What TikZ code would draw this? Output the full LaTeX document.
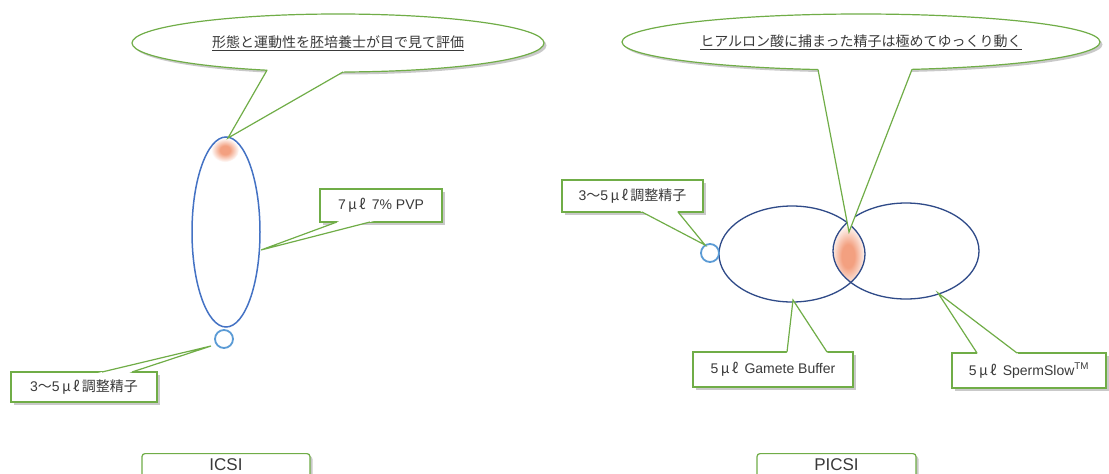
\documentclass[tikz,border=0pt]{standalone}
\usepackage{fontspec}
\setmainfont{Liberation Sans}
\newfontfamily\jp{Noto Sans CJK JP}
\usetikzlibrary{shapes.geometric,shadows,calc}
\definecolor{grn}{HTML}{70AD47}
\definecolor{blu}{HTML}{4472C4}
\definecolor{navy}{HTML}{2F4A88}
\definecolor{lblu}{HTML}{5B9BD5}
\definecolor{orng}{RGB}{243,160,128}
\definecolor{txt}{HTML}{3A3A3A}
\pgfdeclareradialshading{glow}{\pgfpoint{0bp}{0bp}}{color(0bp)=(orng); color(9bp)=(orng); color(25bp)=(white); color(50bp)=(white)}
\newcommand{\muell}{{\jp\,μ\,ℓ\,}}
\begin{document}
\begin{tikzpicture}[x=1pt,y=-1pt,
 shadowed/.style={drop shadow={shadow xshift=2.5pt,shadow yshift=-2.5pt,opacity=0.35,fill=black!60}},
 calloutell/.style={ellipse, draw=grn, line width=1.2pt, fill=white, inner sep=0pt, text=txt, font=\jp\fontsize{14}{16}\selectfont, shadowed},
 calloutbox/.style={rectangle, draw=grn, line width=1.2pt, fill=white, inner sep=0pt, text=txt, font=\fontsize{14}{16}\selectfont, shadowed},
 tailline/.style={draw=grn, line width=1.2pt, line join=miter},
 titlebox/.style={rectangle, rounded corners=3pt, draw=grn, line width=1.2pt, fill=white, text=txt, font=\fontsize{17}{20}\selectfont, shadowed, anchor=north, text height=12.5pt, text depth=22pt, inner ysep=4pt},
 vessel/.style={ellipse, inner sep=0pt},
 drop/.style={circle, draw=lblu, line width=1.8pt, minimum size=18pt, inner sep=0pt}
]
\useasboundingbox (0,0) rectangle (1109,474);
\fill[white] (0,0) rectangle (1109,474);

% ---------- ICSI ----------
\shade[shading=glow] (225,150) ellipse[x radius=14, y radius=12];
\node[vessel, draw=blu, line width=1.5pt, minimum width=68pt, minimum height=190pt] (tube) at (226,232) {};
\node[drop] (drop1) at (224,339) {};

\node[calloutell, minimum width=412pt, minimum height=58pt] (c1) at (338,43) {\underline{形態と運動性を胚培養士が目で見て評価}};
\coordinate (c1a) at (267,70.2); \coordinate (c1b) at (343,72); \coordinate (c1t) at (228,138);
\fill[white] ($(c1a)!-4pt!(c1t)$) -- (c1t) -- ($(c1b)!-4pt!(c1t)$) -- cycle;
\draw[tailline] (c1a) -- (c1t) -- (c1b);

\node[calloutbox, minimum width=122pt, minimum height=33pt] (pvp) at (381,205.5) {7\muell\ 7\% PVP};
\coordinate (pa) at (337,222); \coordinate (pb) at (370,222); \coordinate (pt) at (261,250);
\fill[white] ($(pa)!-4pt!(pt)$) -- (pt) -- ($(pb)!-4pt!(pt)$) -- cycle;
\draw[tailline] (pa) -- (pt) -- (pb);

\node[calloutbox, minimum width=146pt, minimum height=30pt] (lab1) at (84,387) {3{\jp 〜}5\muell{\jp 調整精子}};
\coordinate (la) at (102,372); \coordinate (lb) at (132,372); \coordinate (lt) at (211,346);
\fill[white] ($(la)!-4pt!(lt)$) -- (lt) -- ($(lb)!-4pt!(lt)$) -- cycle;
\draw[tailline] (la) -- (lt) -- (lb);

\node[titlebox, minimum width=168pt] (icsi) at (226,453) {ICSI};

% ---------- PICSI ----------
\begin{scope}
\clip (792,254) ellipse[x radius=73, y radius=48];
\clip (906,251) ellipse[x radius=73, y radius=48];
\shade[shading=glow] (848,256) ellipse[x radius=18, y radius=32];
\end{scope}
\node[vessel, draw=navy, line width=1.3pt, minimum width=146pt, minimum height=96pt] (gb) at (792,254) {};
\node[vessel, draw=navy, line width=1.3pt, minimum width=146pt, minimum height=96pt] (ss) at (906,251) {};
\node[drop] (drop2) at (710,253) {};

\node[calloutell, minimum width=478pt, minimum height=56pt] (c2) at (861,42) {\underline{ヒアルロン酸に捕まった精子は極めてゆっくり動く}};
\coordinate (c2a) at (818,69.5); \coordinate (c2b) at (912,69.4); \coordinate (c2t) at (849,232);
\fill[white] ($(c2a)!-4pt!(c2t)$) -- (c2t) -- ($(c2b)!-4pt!(c2t)$) -- cycle;
\draw[tailline] (c2a) -- (c2t) -- (c2b);

\node[calloutbox, minimum width=141pt, minimum height=32pt] (lab2) at (632.5,196) {3{\jp 〜}5\muell{\jp 調整精子}};
\coordinate (ra) at (642,212); \coordinate (rb) at (678,212); \coordinate (rt) at (705,245);
\fill[white] ($(ra)!-4pt!(rt)$) -- (rt) -- ($(rb)!-4pt!(rt)$) -- cycle;
\draw[tailline] (ra) -- (rt) -- (rb);

\node[calloutbox, minimum width=160pt, minimum height=35pt] (gbl) at (773,369.5) {5\muell\ Gamete Buffer};
\coordinate (ga) at (787,352); \coordinate (gb2) at (827,352); \coordinate (gt) at (793,300);
\fill[white] ($(ga)!-4pt!(gt)$) -- (gt) -- ($(gb2)!-4pt!(gt)$) -- cycle;
\draw[tailline] (ga) -- (gt) -- (gb2);

\node[calloutbox, minimum width=154pt, minimum height=35pt] (ssl) at (1029,370.5) {5\muell\ SpermSlow\textsuperscript{TM}};
\coordinate (sa) at (977,353); \coordinate (sb) at (1017,353); \coordinate (st) at (938,293);
\fill[white] ($(sa)!-4pt!(st)$) -- (st) -- ($(sb)!-4pt!(st)$) -- cycle;
\draw[tailline] (sa) -- (st) -- (sb);

\node[titlebox, minimum width=159pt] (picsi) at (836.5,453) {PICSI};
\end{tikzpicture}
\end{document}
